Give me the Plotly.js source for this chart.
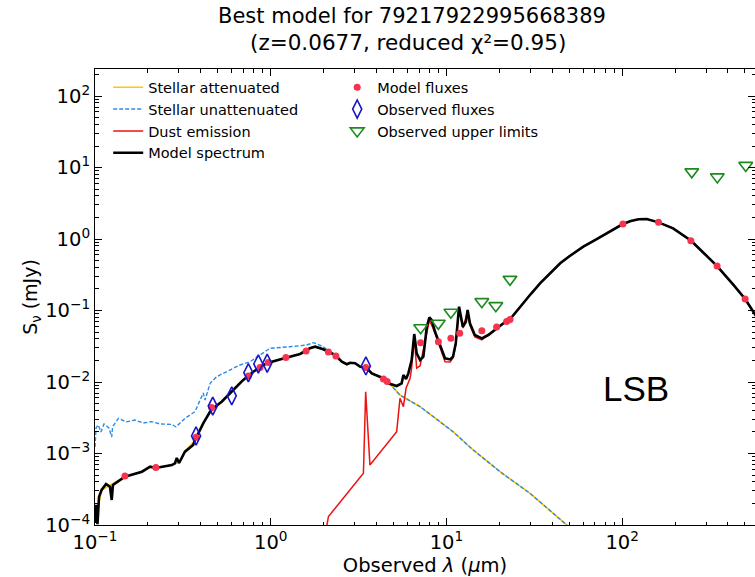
<!DOCTYPE html>
<html>
<head>
<meta charset="utf-8">
<script src="https://cdn.plot.ly/plotly-3.0.1.min.js"></script>
<style>html,body{margin:0;padding:0;background:#fff;}#chart{width:755px;height:577px;}</style>
</head>
<body>
<div id="chart"></div>
<script>
// ---- Data (wavelength in micron, flux in mJy) ----
const modelWl = [0.100,0.1014,0.1033,0.1054,0.109,0.1156,0.1216,0.1245,0.1265,0.148,0.185,0.206,0.221,0.274,0.285,0.292,0.301,0.325,0.362,0.371,0.413,0.423,0.452,0.471,0.526,0.612,0.698,0.796,0.948,1.18,1.47,1.67,1.79,1.99,2.32,2.54,2.71,2.83,3.02,3.22,3.52,3.76,4.37,4.67,5.21,5.56,5.69,5.89,6.07,6.34,6.56,6.77,7.08,7.39,7.73,8.00,8.25,8.61,8.99,9.40,9.82,10.5,10.9,11.3,11.8,12.4,12.9,13.2,13.6,14.5,15.9,17.3,19.3,21.1,23.0,26.2,27.4,30.2,34.1,38.0,44.4,50.1,60.1,70.8,81.7,91.2,101,112,124,138,161,195,247,290,347,430,501,558,650];
const modelFlux = [1.07e-4,1.91e-4,1.03e-4,2.47e-4,3.09e-4,3.74e-4,3.44e-4,2.24e-4,3.62e-4,4.73e-4,5.56e-4,6.53e-4,6.27e-4,6.90e-4,7.29e-4,8.65e-4,7.36e-4,1.06e-3,1.32e-3,1.55e-3,2.64e-3,2.94e-3,3.85e-3,4.29e-3,5.30e-3,7.73e-3,0.0107,0.0139,0.0183,0.0214,0.0247,0.0296,0.0312,0.0287,0.0239,0.0192,0.0177,0.0186,0.0183,0.0164,0.0156,0.0132,0.0113,9.60e-3,8.79e-3,9.60e-3,0.0125,0.0110,0.0132,0.0203,0.0469,0.0252,0.0203,0.0226,0.0593,0.0803,0.0736,0.0505,0.0386,0.0281,0.0214,0.0207,0.0226,0.0347,0.113,0.0593,0.0697,0.102,0.0662,0.0454,0.0408,0.0454,0.0564,0.0662,0.0753,0.113,0.126,0.170,0.240,0.316,0.457,0.575,0.780,0.977,1.20,1.41,1.62,1.78,1.89,1.905,1.71,1.41,0.946,0.643,0.419,0.228,0.145,0.0962,0.0533];

const unattWl = [0.100,0.1014,0.1044,0.1081,0.1125,0.120,0.1245,0.1259,0.136,0.150,0.169,0.188,0.210,0.234,0.274,0.289,0.325,0.371,0.413,0.423,0.452,0.493,0.586,0.668,0.762,0.869,0.991,1.29,1.60,1.75,1.99,2.17,2.32,2.54,2.71,2.83,3.02,3.22,3.52,3.76,4.37,4.66,5.44,7.08,9.60,10.9,14.2,20.2,29.9,40.6,48.4,65.6];
const unattFlux = [1.23e-3,2.28e-3,2.51e-3,2.00e-3,2.59e-3,2.28e-3,1.70e-3,2.37e-3,3.10e-3,2.76e-3,2.94e-3,2.67e-3,2.79e-3,2.59e-3,2.55e-3,2.35e-3,3.10e-3,3.85e-3,7.01e-3,5.60e-3,9.60e-3,0.0119,0.0147,0.0173,0.0192,0.0239,0.0296,0.0312,0.0329,0.0355,0.0312,0.0263,0.0239,0.0192,0.0177,0.0186,0.0183,0.0164,0.0156,0.0132,0.0113,0.0100,6.58e-3,4.52e-3,2.51e-3,2.02e-3,1.12e-3,5.56e-4,2.77e-4,1.46e-4,1.00e-4,5.25e-5];

const attWl = [0.100,0.109,0.148,0.185,0.206,0.221,0.274,0.285,0.301,0.325,0.371,0.423,0.471,0.526,0.612,0.698,0.796,0.948,1.18,1.47,1.67,1.79,1.99,2.32,2.54,2.71,2.83,3.02,3.22,3.52,3.76,4.37,4.66,5.44,7.08,9.60,10.9,14.2,20.2,29.9,40.6,48.4,65.6];
const attFlux = [1.07e-4,3.09e-4,4.73e-4,5.56e-4,6.53e-4,6.27e-4,6.90e-4,7.29e-4,7.36e-4,1.06e-3,1.55e-3,2.94e-3,4.29e-3,5.30e-3,7.73e-3,0.0107,0.0139,0.0183,0.0214,0.0247,0.0296,0.0312,0.0287,0.0239,0.0192,0.0177,0.0186,0.0183,0.0164,0.0156,0.0132,0.0113,0.0100,6.58e-3,4.52e-3,2.51e-3,2.02e-3,1.12e-3,5.56e-4,2.77e-4,1.46e-4,1.00e-4,5.25e-5];

const dustWl = [2.08,2.09,2.13,3.37,3.47,3.67,5.21,5.44,5.69,5.89,6.21,6.34,6.56,6.77,7.08,7.73,8.00,8.61,9.40,9.82,10.5,10.9,11.3,11.8,12.4,13.2,13.6,14.5,15.9,17.3,19.3,21.1,23.0,26.2,27.4,30.2,34.1,38.0,44.4,50.1,60.1,70.8,81.7,91.2,101,112,124,138,161,195,247,290,347,430,501,558,650];
const dustFlux = [5.0e-5,1.0e-4,1.31e-4,5.28e-4,7.31e-3,6.90e-4,2.02e-3,5.91e-3,4.51e-3,8.17e-3,0.0113,0.0157,0.0412,0.0156,0.0168,0.0533,0.0736,0.0484,0.0263,0.0192,0.0191,0.0217,0.0329,0.108,0.0569,0.0953,0.0627,0.0426,0.0387,0.0454,0.0564,0.0662,0.0753,0.113,0.126,0.170,0.240,0.316,0.457,0.575,0.780,0.977,1.20,1.41,1.62,1.78,1.89,1.905,1.71,1.41,0.946,0.643,0.419,0.228,0.145,0.0962,0.0533];

const modFluxWl = [0.148,0.222,0.376,0.461,0.746,0.869,0.968,1.22,1.59,2.13,2.35,3.48,4.38,4.60,7.13,9.00,10.6,11.9,15.9,19.3,22.0,23.0,101,161,246,347,501];
const modFluxVal = [4.84e-4,6.35e-4,1.69e-3,4.4e-3,0.0121,0.0160,0.0188,0.0221,0.0272,0.0263,0.0231,0.0160,0.0110,0.0102,0.0355,0.0366,0.0410,0.048,0.052,0.059,0.070,0.075,1.62,1.71,0.946,0.419,0.145];

const obsWl = [0.376,0.468,0.600,0.746,0.850,0.955,3.48];
const obsVal = [1.76e-3,4.6e-3,6.4e-3,0.0135,0.0179,0.0183,0.0168];

const ulWl = [7.13,8.99,10.6,15.9,19.1,23.0,249,348,505];
const ulVal = [0.0575,0.0662,0.0944,0.133,0.117,0.273,8.7,7.4,10.7];

const xTickVals = [0.1, 1, 10, 100];
const xTickText = ['10<sup>−1</sup>', '10<sup>0</sup>', '10<sup>1</sup>', '10<sup>2</sup>'];
const yTickVals = [1e-4, 1e-3, 1e-2, 1e-1, 1, 10, 100];
const yTickText = ['10<sup>−4</sup>', '10<sup>−3</sup>', '10<sup>−2</sup>', '10<sup>−1</sup>', '10<sup>0</sup>', '10<sup>1</sup>', '10<sup>2</sup>'];

const titleLine1 = "Best model for 79217922995668389";
const titleLine2 = "(z=0.0677, reduced χ²=0.95)";
const label = "LSB";

// ---- Traces ----
const font = "DejaVu Sans, Verdana, sans-serif";
const traces = [
  {x: attWl, y: attFlux, mode: 'lines', name: 'Stellar attenuated', legendrank: 1,
   line: {color: '#ffc800', width: 1.6}},
  {x: unattWl, y: unattFlux, mode: 'lines', name: 'Stellar unattenuated', legendrank: 3,
   line: {color: '#2c8be6', width: 1.4, dash: '4px,2px'}},
  {x: dustWl, y: dustFlux, mode: 'lines', name: 'Dust emission', legendrank: 5,
   line: {color: '#ee1111', width: 1.5}},
  {x: modelWl, y: modelFlux, mode: 'lines', name: 'Model spectrum', legendrank: 7,
   line: {color: '#000000', width: 2.6}},
  {x: modFluxWl, y: modFluxVal, mode: 'markers', name: 'Model fluxes', legendrank: 2,
   marker: {symbol: 'circle', size: 7, color: '#f7334d'}},
  {x: obsWl, y: obsVal, mode: 'markers', name: 'Observed fluxes', legendrank: 4,
   marker: {symbol: 'diamond-tall-open', size: 13, color: '#1515cc', line: {width: 1.6, color: '#1515cc'}}},
  {x: ulWl, y: ulVal, mode: 'markers', name: 'Observed upper limits', legendrank: 6,
   marker: {symbol: 'triangle-down-open', size: 12, color: '#1e8a1e', line: {width: 1.6, color: '#1e8a1e'}}}
];

const axisCommon = {
  type: 'log', showgrid: false, zeroline: false,
  showline: true, linecolor: '#000', linewidth: 1,
  mirror: 'allticks', ticks: 'inside', ticklen: 7, tickwidth: 1, tickcolor: '#000',
  tickmode: 'array',
  tickfont: {family: font, size: 19.5, color: '#000'},
  minor: {ticks: 'inside', ticklen: 3.5, tickwidth: 1, tickcolor: '#000', dtick: 'D1', showgrid: false}
};

const layout = {
  width: 755, height: 577,
  paper_bgcolor: '#fff', plot_bgcolor: '#fff',
  margin: {l: 95, r: 0, t: 69, b: 52},
  font: {family: font, color: '#000'},
  title: {text: titleLine1, font: {family: font, size: 21, color: '#000'},
          xref: 'container', x: 412 / 755, xanchor: 'center',
          yref: 'container', y: 1 - 16 / 577, yanchor: 'middle'},
  xaxis: Object.assign({}, axisCommon, {
    range: [-1, 2.756], tickvals: xTickVals, ticktext: xTickText,
    title: {text: 'Observed <i>λ</i> (<i>μ</i>m)', font: {family: font, size: 19.5, color: '#000'}, standoff: 2}
  }),
  yaxis: Object.assign({}, axisCommon, {
    range: [-4, 2.378], tickvals: yTickVals, ticktext: yTickText,
    title: {text: 'S<sub>ν</sub> (mJy)', font: {family: font, size: 19, color: '#000'}, standoff: 2}
  }),
  showlegend: true,
  legend: {orientation: 'h', x: 0.02, xanchor: 'left', y: 0.995, yanchor: 'top',
           bgcolor: 'rgba(0,0,0,0)', borderwidth: 0, entrywidth: 184, entrywidthmode: 'pixels',
           font: {family: font, size: 14.5, color: '#000'}, tracegroupgap: 0, traceorder: 'normal'},
  annotations: [
    {text: titleLine2, xref: 'paper', yref: 'paper',
     x: (408 - 95) / 660, y: (525 - 43) / 456, xanchor: 'center', yanchor: 'middle',
     showarrow: false, font: {family: font, size: 21.5, color: '#000'}},
    {text: label, xref: 'paper', yref: 'paper',
     x: (636 - 95) / 660, y: (525 - 388) / 456, xanchor: 'center', yanchor: 'middle',
     showarrow: false, font: {family: 'Liberation Sans, Arial, sans-serif', size: 35, color: '#000'}}
  ]
};

Plotly.newPlot('chart', traces, layout, {displayModeBar: false, staticPlot: true});
</script>
</body>
</html>
